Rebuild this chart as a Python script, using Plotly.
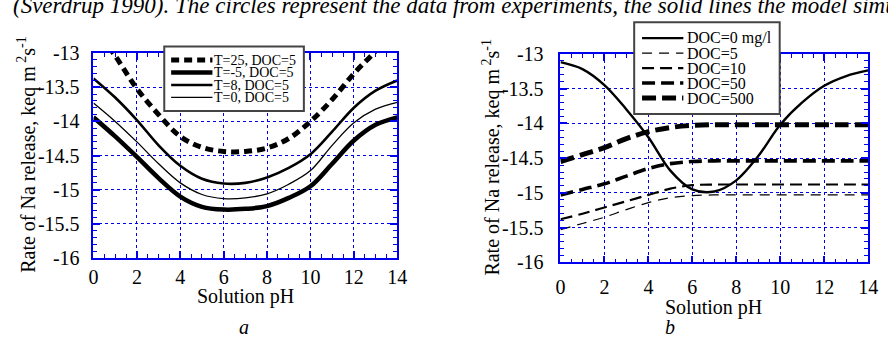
import plotly.graph_objects as go

# ---- data -------------------------------------------------------------
ph = list(range(15))

# panel a: temperature series (log rate of Na release)
temp_names = ["T=25, DOC=5", "T=-5, DOC=5", "T=8, DOC=5", "T=0, DOC=5"]
t25 = [-12.6, -13.04, -13.52, -13.9, -14.22, -14.38, -14.44, -14.44,
       -14.39, -14.25, -14.0, -13.68, -13.3, -12.97, -12.6]
tm5 = [-13.94, -14.22, -14.52, -14.83, -15.1, -15.25, -15.29, -15.28,
       -15.24, -15.12, -14.95, -14.62, -14.28, -14.05, -13.94]
t8 = [-13.37, -13.65, -13.98, -14.35, -14.65, -14.84, -14.91, -14.9,
      -14.82, -14.68, -14.48, -14.15, -13.8, -13.55, -13.4]
t0 = [-13.73, -14.0, -14.3, -14.62, -14.9, -15.07, -15.13, -15.12,
      -15.06, -14.92, -14.72, -14.35, -14.02, -13.82, -13.72]

# panel b: dissolved organic carbon series
doc_names = ["DOC=0 mg/l", "DOC=5", "DOC=10", "DOC=50", "DOC=500"]
doc0 = [-13.12, -13.22, -13.45, -13.8, -14.2, -14.68, -14.95, -14.98,
        -14.82, -14.47, -14.02, -13.7, -13.46, -13.32, -13.24]
doc5 = [-15.53, -15.44, -15.35, -15.24, -15.14, -15.07, -15.04, -15.03,
        -15.03, -15.03, -15.03, -15.03, -15.03, -15.03, -15.03]
doc10 = [-15.38, -15.3, -15.21, -15.12, -15.03, -14.94, -14.89, -14.88,
         -14.88, -14.88, -14.88, -14.88, -14.88, -14.88, -14.88]
doc50 = [-15.03, -14.95, -14.87, -14.76, -14.65, -14.58, -14.55, -14.54,
         -14.54, -14.54, -14.54, -14.54, -14.54, -14.54, -14.54]
doc500 = [-14.55, -14.45, -14.35, -14.22, -14.12, -14.06, -14.03, -14.02,
          -14.02, -14.02, -14.02, -14.02, -14.02, -14.02, -14.02]

x_ticks = [0, 2, 4, 6, 8, 10, 12, 14]
y_ticks = [-16, -15.5, -15, -14.5, -14, -13.5, -13]
y_ticktext = ["-16", "-15.5", "-15", "-14.5", "-14", "-13.5", "-13"]

SERIF = "Liberation Serif"
BLUE = "#0000ee"
W, H = 888, 342


def px(v):
    return v / W


def py(v):
    return 1 - v / H


fig = go.Figure()

temp_styles = [
    dict(width=5, dash="8px,5px"),
    dict(width=4.5, dash="solid"),
    dict(width=2.6, dash="solid"),
    dict(width=1.3, dash="solid"),
]
doc_styles = [
    dict(width=2.4, dash="solid"),
    dict(width=1.2, dash="10px,7px"),
    dict(width=2.2, dash="12px,6px"),
    dict(width=3.6, dash="13px,6px"),
    dict(width=5, dash="14px,6px"),
]

for name, vals, st in zip(temp_names, [t25, tm5, t8, t0], temp_styles):
    fig.add_trace(go.Scatter(
        x=ph, y=vals, name=name, mode="lines", showlegend=False,
        line=dict(color="black", shape="spline", **st),
        xaxis="x", yaxis="y"))

for name, vals, st in zip(doc_names, [doc0, doc5, doc10, doc50, doc500], doc_styles):
    fig.add_trace(go.Scatter(
        x=ph, y=vals, name=name, mode="lines", showlegend=False,
        line=dict(color="black", shape="spline", **st),
        xaxis="x2", yaxis="y2"))


def x_axis(domain, anchor, standoff):
    return dict(
        domain=domain, anchor=anchor, range=[0, 14],
        tickvals=x_ticks, ticks="inside", ticklen=7, tickwidth=1.5,
        tickcolor=BLUE, showline=True, linecolor=BLUE, linewidth=1.8,
        mirror="allticks", showgrid=True, gridcolor=BLUE, griddash="dot",
        gridwidth=1, zeroline=False, ticklabelstandoff=standoff,
        tickfont=dict(family=SERIF, size=20, color="black"),
        minor=dict(dtick=0.5, ticks="inside", ticklen=4, tickwidth=1.2,
                   tickcolor=BLUE, showgrid=False),
    )


def y_axis(domain, anchor, standoff):
    return dict(
        domain=domain, anchor=anchor, range=[-16, -13],
        tickvals=y_ticks, ticktext=y_ticktext, ticks="inside", ticklen=7,
        tickwidth=1.5, tickcolor=BLUE, showline=True, linecolor=BLUE,
        linewidth=1.8, mirror="allticks", showgrid=True, gridcolor=BLUE,
        griddash="dot", gridwidth=1, zeroline=False,
        ticklabelstandoff=standoff,
        tickfont=dict(family=SERIF, size=20, color="black"),
        minor=dict(dtick=0.1, ticks="inside", ticklen=4, tickwidth=1.2,
                   tickcolor=BLUE, showgrid=False),
    )


def text(s, x, y, size=20, italic=False, angle=0, xanchor="center"):
    return dict(text=s, x=px(x), y=py(y), xref="paper", yref="paper",
                xanchor=xanchor, yanchor="middle", textangle=angle,
                showarrow=False,
                font=dict(family=SERIF, size=size, color="black",
                          style="italic" if italic else "normal"))


ytitle = "Rate of Na release, keq m<sup> 2</sup>s<sup>-1</sup>"

annotations = [
    text("(Sverdrup 1990). The circles represent the data from experiments, "
         "the solid lines the model simulations", 6, -6, size=23, italic=True,
         xanchor="left"),
    text("Solution pH", 244.5, 305),
    text("Solution pH", 721, 317),
    text(ytitle, 22, 153, angle=-90),
    text(ytitle, 495, 156, angle=-90),
    text("a", 243, 338, italic=True),
    text("b", 676, 338, italic=True),
]
shapes = []


def legend_box(names, styles, box, first_row, row_gap, line_x, text_x, size):
    """Framed key: a sample stroke and a label for each series."""
    x0, y0, x1, y1 = box
    shapes.append(dict(type="rect", xref="paper", yref="paper",
                       x0=px(x0), x1=px(x1), y0=py(y1), y1=py(y0),
                       fillcolor="white", line=dict(color="#444", width=2),
                       layer="above"))
    for i, (name, st) in enumerate(zip(names, styles)):
        yy = first_row + i * row_gap
        shapes.append(dict(type="line", xref="paper", yref="paper",
                           x0=px(line_x[0]), x1=px(line_x[1]),
                           y0=py(yy), y1=py(yy), layer="above",
                           line=dict(color="black", width=st["width"],
                                     dash=st["dash"])))
        annotations.append(text(name, text_x, yy, size=size, xanchor="left"))


legend_box(temp_names, temp_styles, (162, 38, 304, 107), 52.5, 13.3,
           (169, 211), 211, 14)
legend_box(doc_names, doc_styles, (640, 12, 788, 110), 29, 16,
           (648, 690), 692, 16)

fig.update_layout(
    width=W, height=H, margin=dict(l=0, r=0, t=0, b=0),
    paper_bgcolor="white", plot_bgcolor="white",
    xaxis=x_axis([px(90), px(399)], "y", 0),
    yaxis=y_axis([1 - 264 / H, 1 - 45 / H], "x", 8),
    xaxis2=x_axis([px(565), px(878)], "y2", 6),
    yaxis2=y_axis([1 - 268.7 / H, 1 - 45.7 / H], "x2", 11),
    annotations=annotations,
    shapes=shapes,
    showlegend=False,
)

fig.write_html("out.html")
